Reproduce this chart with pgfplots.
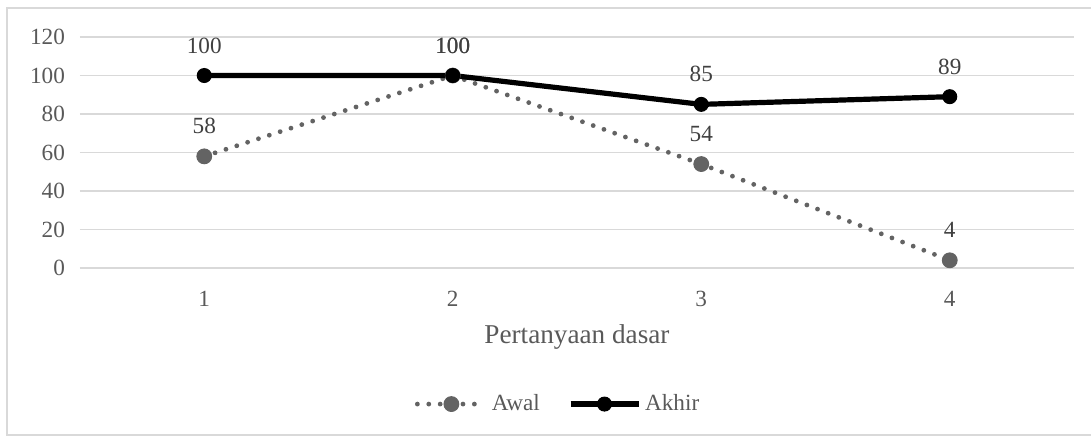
\documentclass[border=0pt]{standalone}
\usepackage{fontspec}
\setmainfont{Liberation Serif}
\usepackage{pgfplots}
\pgfplotsset{compat=1.18}
\definecolor{tickgray}{HTML}{595959}
\definecolor{labgray}{HTML}{404040}
\definecolor{gridgray}{HTML}{D9D9D9}
\definecolor{awalgray}{HTML}{636363}
\begin{document}
\begin{tikzpicture}
\useasboundingbox (-40pt,-84pt) rectangle (505.5pt,134pt);
\draw[gridgray, line width=0.75pt] (-36.5pt,-83.5pt) rectangle (508pt,130pt);
\begin{axis}[
  at={(0pt,0pt)}, anchor=south west,
  scale only axis, width=497pt, height=115.5pt,
  xmin=0.5, xmax=4.5, ymin=0, ymax=120,
  xtick={1,2,3,4}, ytick={0,20,...,120},
  axis line style={draw=none},
  major tick length=0pt,
  ymajorgrids, grid style={gridgray, line width=0.75pt},
  /pgf/number format/assume math mode=true,
  tick label style={font=\fontsize{11.6}{13}\selectfont, text=tickgray},
  yticklabel style={xshift=-4pt},
  xticklabel style={yshift=-8pt},
  xlabel={Pertanyaan dasar},
  xlabel style={font=\fontsize{13.6}{16}\selectfont, text=tickgray, yshift=-2pt},
  nodes near coords,
  nodes near coords style={font=\fontsize{11.6}{13}\selectfont, text=labgray, anchor=center, yshift=15pt},
  clip=false,
  legend columns=2,
  legend style={draw=none, fill=none, at={(0.482,-0.589)}, anchor=center,
    font=\fontsize{11.6}{13}\selectfont, text=tickgray,
    /tikz/every even column/.append style={column sep=12pt}},
  legend image code/.code={\draw[mark repeat=2, mark phase=2] plot coordinates {(0pt,0pt)(17pt,0pt)(34pt,0pt)};},
]
\addplot[awalgray, line width=2.4pt, line cap=round, dash pattern=on 0pt off 5.7pt,
  mark=*, mark size=3.7pt, mark options={solid, fill=awalgray, draw=awalgray, line width=0.5pt}]
  coordinates {(1,58) (2,100) (3,54) (4,4)};
\addlegendentry{Awal}
\addplot[black, line width=2.6pt,
  mark=*, mark size=3.5pt, mark options={solid, fill=black, line width=0.5pt}]
  coordinates {(1,100) (2,100) (3,85) (4,89)};
\addlegendentry{Akhir}
\end{axis}
\end{tikzpicture}
\end{document}
